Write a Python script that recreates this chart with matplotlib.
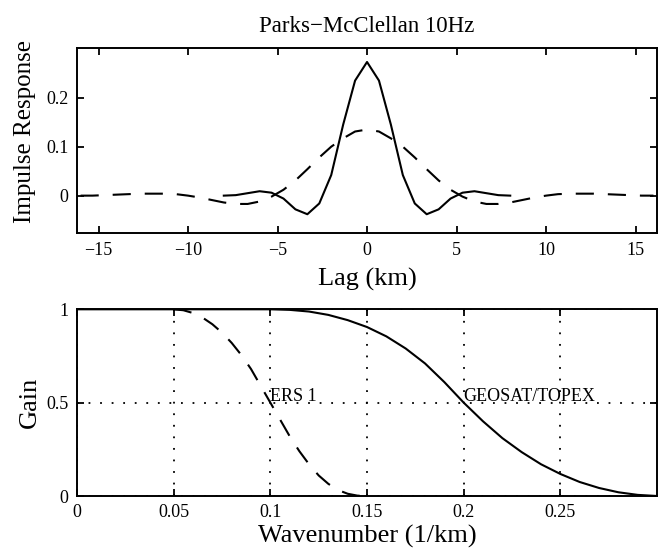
import numpy as np
import matplotlib
matplotlib.use("Agg")
import matplotlib.pyplot as plt

# top panel: impulse responses, one side (lag >= 0), symmetric about 0
lag_pm = [0.0, 0.667, 1.333, 2.0, 2.667, 3.333, 4.0, 4.667, 5.333, 6.0, 6.667, 7.333, 8.0]
resp_pm = [0.273, 0.235, 0.145, 0.042, -0.016, -0.038, -0.028, -0.006, 0.006, 0.009, 0.005, 0.001, 0.0]

lag_ers = [0.0, 0.667, 1.333, 2.0, 2.667, 3.333, 4.0, 4.667, 5.333, 6.0, 6.667, 7.333,
           8.0, 8.667, 9.333, 10.0, 10.667, 11.333, 12.0, 12.667, 13.333, 14.0,
           14.667, 15.333, 16.0]
resp_ers = [0.135, 0.131, 0.117, 0.100, 0.078, 0.054, 0.031, 0.012, -0.002, -0.012,
            -0.017, -0.017, -0.014, -0.009, -0.004, 0.0, 0.003, 0.004, 0.004, 0.004,
            0.003, 0.002, 0.001, 0.0, 0.0]

# bottom panel: gain vs wavenumber
k_geo = [0.0, 0.10, 0.11, 0.12, 0.13, 0.14, 0.15, 0.16, 0.17, 0.18, 0.19, 0.20,
         0.21, 0.22, 0.23, 0.24, 0.25, 0.26, 0.27, 0.28, 0.29, 0.30]
gain_geo = [1.0, 1.0, 0.997, 0.988, 0.97, 0.942, 0.905, 0.855, 0.79, 0.71, 0.61, 0.5,
            0.40, 0.31, 0.235, 0.17, 0.118, 0.075, 0.043, 0.02, 0.006, 0.0]

k_ers = [0.050, 0.055, 0.060, 0.065, 0.070, 0.075, 0.080, 0.085, 0.090, 0.095, 0.100,
         0.105, 0.110, 0.115, 0.120, 0.125, 0.130, 0.135, 0.140, 0.145, 0.150]
gain_ers = [1.0, 0.995, 0.98, 0.955, 0.92, 0.875, 0.82, 0.755, 0.68, 0.59, 0.50,
            0.41, 0.32, 0.24, 0.17, 0.11, 0.065, 0.032, 0.012, 0.002, 0.0]

plt.rcParams["font.family"] = ["Liberation Serif", "DejaVu Serif"]
plt.rcParams["axes.linewidth"] = 1.4


def mirror(lags, vals):
    lags = np.asarray(lags)
    vals = np.asarray(vals)
    return np.concatenate([-lags[:0:-1], lags]), np.concatenate([vals[:0:-1], vals])


def style_ticks(ax):
    ax.tick_params(direction="in", length=5, width=1.3, top=True, right=True,
                   labelsize=13, pad=6)


fig = plt.figure(figsize=(6.6, 5.55), dpi=100)
ax1 = fig.add_axes([0.1167, 0.5796, 0.8788, 0.3334])
ax2 = fig.add_axes([0.1167, 0.1063, 0.8788, 0.3364])

dash = (0, (8.7, 6.7))

x, y = mirror(lag_ers, resp_ers)
ax1.plot(x, y, color="black", lw=1.5, linestyle=dash)
x, y = mirror(lag_pm, resp_pm)
ax1.plot(x, y, color="black", lw=1.5)
ax1.set_xlim(-16.2, 16.2)
ax1.set_ylim(-0.077, 0.301)
ax1.set_xticks([-15, -10, -5, 0, 5, 10, 15])
ax1.set_yticks([0, 0.1, 0.2])
ax1.set_yticklabels(["0", "0.1", "0.2"])
style_ticks(ax1)
ax1.set_title("Parks\u2212McClellan 10Hz", fontsize=16.5, pad=12)
ax1.set_xlabel("Lag (km)", fontsize=19)
ax1.set_ylabel("Impulse Response", fontsize=18)
ax1.xaxis.set_label_coords(0.5, -0.185)
ax1.yaxis.set_label_coords(-0.07, 0.55)

ax2.plot(k_ers, gain_ers, color="black", lw=1.5, linestyle=dash)
ax2.plot(k_geo, gain_geo, color="black", lw=1.5)
ax2.set_xlim(0, 0.3)
ax2.set_ylim(0, 1)
ax2.set_xticks([0, 0.05, 0.1, 0.15, 0.2, 0.25])
ax2.set_xticklabels(["0", "0.05", "0.1", "0.15", "0.2", "0.25"])
ax2.set_yticks([0, 0.5, 1])
ax2.set_yticklabels(["0", "0.5", "1"])
ax2.grid(True, color="black", linestyle=(0, (1, 5.4)), linewidth=1.3)
style_ticks(ax2)
ax2.text(0.1, 0.51, "ERS 1", fontsize=13, ha="left", va="baseline")
ax2.text(0.2, 0.51, "GEOSAT/TOPEX", fontsize=13, ha="left", va="baseline")
ax2.set_xlabel("Wavenumber (1/km)", fontsize=19)
ax2.set_ylabel("Gain", fontsize=19)
ax2.xaxis.set_label_coords(0.5, -0.155)
ax2.yaxis.set_label_coords(-0.062, 0.5)

fig.savefig("out.png", dpi=100)
